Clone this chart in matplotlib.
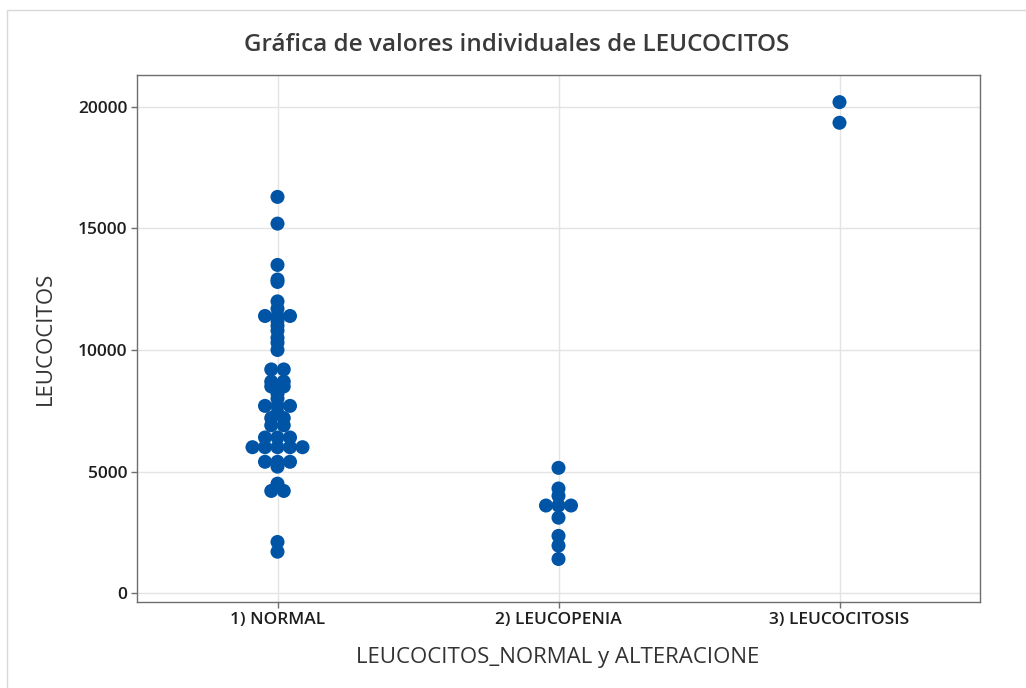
import numpy as np
import matplotlib
matplotlib.use("Agg")
import matplotlib.pyplot as plt
from matplotlib.patches import Rectangle

# ---- data ----
categories = ["1) NORMAL", "2) LEUCOPENIA", "3) LEUCOCITOSIS"]
normal = [16300, 15200, 13500, 12900, 12800, 12000, 11700,
          11400, 11400, 11400, 11200, 11000, 10800, 10500, 10300, 10000,
          9200, 9200, 8700, 8700, 8500, 8500, 8200, 8000,
          7700, 7700, 7700, 7400, 7200, 7200, 6900, 6900,
          6400, 6400, 6400, 6000, 6000, 6000, 6000, 6000,
          5400, 5400, 5400, 5200, 4500, 4200, 4200, 2100, 1700]
leucopenia = [5150, 4300, 4000, 3600, 3600, 3600, 3100, 2350, 1950, 1400]
leucocitosis = [20200, 19350]
y_ticks = [0, 5000, 10000, 15000, 20000]

groups = [normal, leucopenia, leucocitosis]

BLUE = "#0054A6"
plt.rcParams['font.family'] = ['Open Sans', 'DejaVu Sans']

fig = plt.figure(figsize=(10.26, 6.88), dpi=100)
W, H = 1026, 688
ax = fig.add_axes([137 / W, 1 - 602 / H, (980 - 137) / W, (602 - 75) / H])

# outer light frame
fig.patches.append(Rectangle((7 / W, -0.1), 1.2, 1 - 10 / H + 0.1,
                             transform=fig.transFigure, fill=False,
                             edgecolor="#D8D8D8", linewidth=1.0))

step = 0.0445
for i, vals in enumerate(groups):
    vals = np.asarray(vals, dtype=float)
    xs = np.zeros_like(vals)
    for v in np.unique(vals):
        idx = np.where(vals == v)[0]
        n = len(idx)
        xs[idx] = (np.arange(n) - (n - 1) / 2) * step
    ax.scatter(i + xs, vals, s=102, color=BLUE, edgecolors="none", zorder=3)

ax.set_xlim(-0.5, 2.5)
ax.set_ylim(-370, 21316)
ax.set_xticks(range(len(categories)))
ax.set_xticklabels(categories)
ax.set_yticks(y_ticks)
ax.set_yticklabels([str(t) for t in y_ticks])
ax.grid(True, color="#E4E4E4", linewidth=1.0, zorder=0)
ax.set_axisbelow(True)
for s in ax.spines.values():
    s.set_color("#6E6E6E")
    s.set_linewidth(1.0)
ax.tick_params(axis="both", direction="out", length=4, width=1, color="#6E6E6E",
               labelsize=12.5, labelcolor="#1E1E1E", pad=3)
for lab in ax.get_xticklabels() + ax.get_yticklabels():
    lab.set_fontweight("semibold")

fig.text(517 / W, 1 - 45 / H, "Gráfica de valores individuales de LEUCOCITOS",
         ha="center", va="center", fontsize=17.5, color="#3A3A3A", fontweight="semibold")
fig.text(45 / W, 1 - 338 / H, "LEUCOCITOS", rotation=90, ha="center", va="center",
         fontsize=16, color="#333333")
fig.text(558 / W, 1 - 657 / H, "LEUCOCITOS_NORMAL y ALTERACIONE",
         ha="center", va="center", fontsize=16, color="#333333")

fig.savefig("out.png", dpi=100)
